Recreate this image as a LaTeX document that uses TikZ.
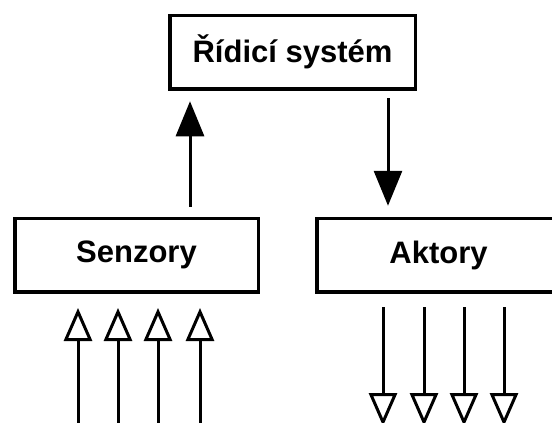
\documentclass[tikz,border=0pt]{standalone}
\usepackage{fontspec}
\setmainfont{Liberation Sans}
\usetikzlibrary{arrows.meta}

\begin{document}
\begin{tikzpicture}[x=1pt, y=-1pt,
  box/.style={draw, line width=3.5pt, inner sep=0pt, minimum width=243.5pt, minimum height=73.5pt, font=\fontsize{31}{36}\selectfont\bfseries},
  solidarrow/.style={line width=3pt, -{Triangle[width=28pt, length=35pt]}},
  openarrow/.style={line width=3pt, -{Triangle[open, width=28pt, length=33pt, line width=3pt]}}]
  \useasboundingbox (0,0) rectangle (552,423);

  \node[box, minimum width=245.5pt] (sys) at (292.5, 52) {Řídicí systém};
  \node[box] (senz) at (136.5, 255) {Senzory};
  \node[box] (akt) at (438.5, 255) {Aktory};

  \coordinate (up) at (190, 0);
  \coordinate (down) at (388, 0);
  \draw[solidarrow, shorten <=9.75pt, shorten >=10.75pt] (senz.north -| up) -- (sys.south -| up);
  \draw[solidarrow, shorten <=7.75pt, shorten >=10.75pt] (sys.south -| down) -- (akt.north -| down);

  \foreach \x [count=\i] in {78,118,158,200}
  {
  \coordinate (s\i) at (\x, 430);
  \coordinate (t\i) at (\x, 308);
  \draw[openarrow] (s\i) -- (t\i);
  }
  \foreach \x [count=\i] in {383,424,464,504}
  {
  \coordinate (a\i) at (\x, 307);
  \coordinate (b\i) at (\x, 426);
  \draw[openarrow] (a\i) -- (b\i);
  }

\end{tikzpicture}
\end{document}
